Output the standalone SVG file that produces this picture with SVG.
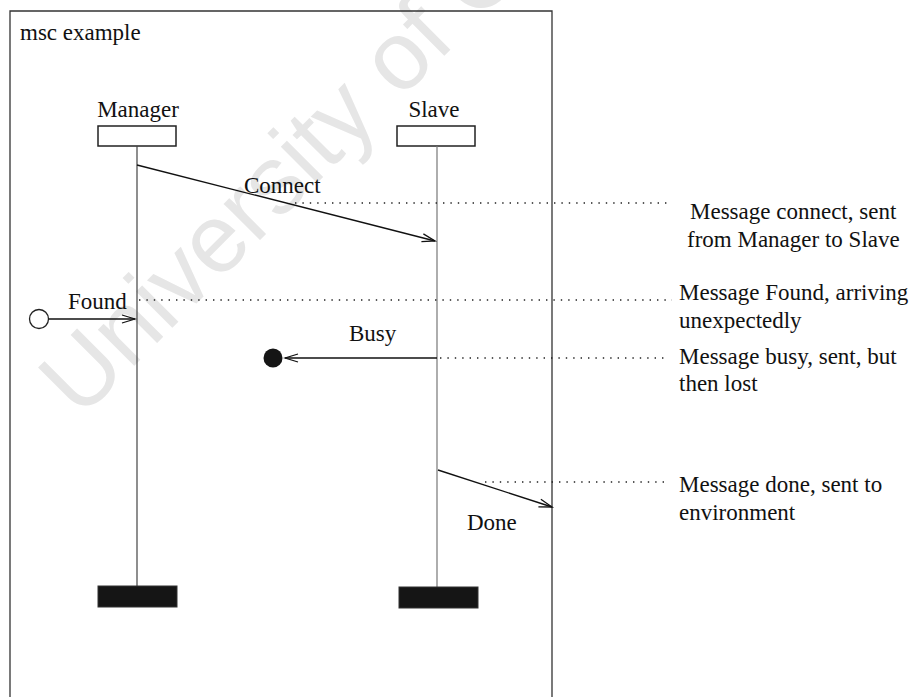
<svg xmlns="http://www.w3.org/2000/svg" width="920" height="697" viewBox="0 0 920 697">
  <style>
    .t { font-family: "Liberation Serif", "Times New Roman", serif; font-size: 23px; fill: #111; }
    .frame { fill: none; stroke: #333; stroke-width: 1.3; }
    .head { fill: #fff; stroke: #222; stroke-width: 1.5; }
    .stop { fill: #151515; stroke: #333; stroke-width: 1; }
    .msg { fill: none; stroke: #111; stroke-width: 1.4; }
    .lead { fill: none; stroke: #222; stroke-width: 1.4; stroke-dasharray: 1.4 6; }
    .mark { font-family: "Liberation Sans", Arial, sans-serif; font-size: 97px; fill: #e6e6e6; }
  </style>
  <defs>
    <marker id="open" viewBox="-14 -6 16 12" refX="0" refY="0" markerWidth="16" markerHeight="12" markerUnits="userSpaceOnUse" orient="auto">
      <path d="M-13,-4 L0,0 L-13,4" fill="none" stroke="#111" stroke-width="1.3"/>
    </marker>
  </defs>

  <rect width="920" height="697" fill="#fff"/>

  <!-- faint stamp behind the chart -->
  <text class="mark" transform="translate(80 420) rotate(-45)">University of Cape Town</text>

  <!-- chart frame -->
  <g id="frame">
    <path class="frame" d="M10,697 L10,11 L552,11 L552,697"/>
    <text class="t" x="20" y="40">msc example</text>
  </g>

  <!-- instances -->
  <g id="manager">
    <text class="t" x="138" y="117" text-anchor="middle">Manager</text>
    <rect class="head" x="98" y="126" width="78" height="20"/>
    <line x1="137" y1="146" x2="137" y2="586" stroke="#444" stroke-width="1.2"/>
    <rect class="stop" x="98" y="586" width="79" height="21"/>
  </g>
  <g id="slave">
    <text class="t" x="434" y="117" text-anchor="middle">Slave</text>
    <rect class="head" x="397" y="126" width="78" height="20"/>
    <line x1="437" y1="146" x2="437" y2="587" stroke="#777" stroke-width="1.2"/>
    <rect class="stop" x="399" y="587" width="79" height="21"/>
  </g>

  <!-- gates / environment -->
  <g id="found-source">
    <circle cx="39" cy="319" r="9.5" fill="#fff" stroke="#222" stroke-width="1.3"/>
  </g>
  <g id="lost-sink">
    <circle cx="273" cy="358" r="9.5" fill="#151515"/>
  </g>

  <!-- messages and leaders -->
  <g id="connectors">
    <line class="msg" x1="137" y1="165" x2="435" y2="241" marker-end="url(#open)"/>
    <line class="msg" x1="49" y1="319" x2="135" y2="319" marker-end="url(#open)"/>
    <line class="msg" x1="437" y1="358" x2="285" y2="358" marker-end="url(#open)"/>
    <line class="msg" x1="438" y1="470" x2="552" y2="507" marker-end="url(#open)"/>

    <line class="lead" x1="295" y1="203" x2="668" y2="203"/>
    <line class="lead" x1="139" y1="300" x2="672" y2="300"/>
    <line class="lead" x1="440" y1="358" x2="668" y2="358"/>
    <line class="lead" x1="485" y1="482" x2="668" y2="482"/>
  </g>

  <!-- message labels -->
  <g id="labels">
    <text class="t" x="244" y="193">Connect</text>
    <text class="t" x="68" y="309">Found</text>
    <text class="t" x="349" y="341">Busy</text>
    <text class="t" x="467" y="530">Done</text>
  </g>

  <!-- notes -->
  <g id="notes">
    <text class="t" x="690" y="219">Message connect, sent</text>
    <text class="t" x="687" y="247">from Manager to Slave</text>
    <text class="t" x="679" y="300">Message Found, arriving</text>
    <text class="t" x="679" y="328">unexpectedly</text>
    <text class="t" x="679" y="364">Message busy, sent, but</text>
    <text class="t" x="679" y="391">then lost</text>
    <text class="t" x="679" y="492">Message done, sent to</text>
    <text class="t" x="679" y="520">environment</text>
  </g>
</svg>
